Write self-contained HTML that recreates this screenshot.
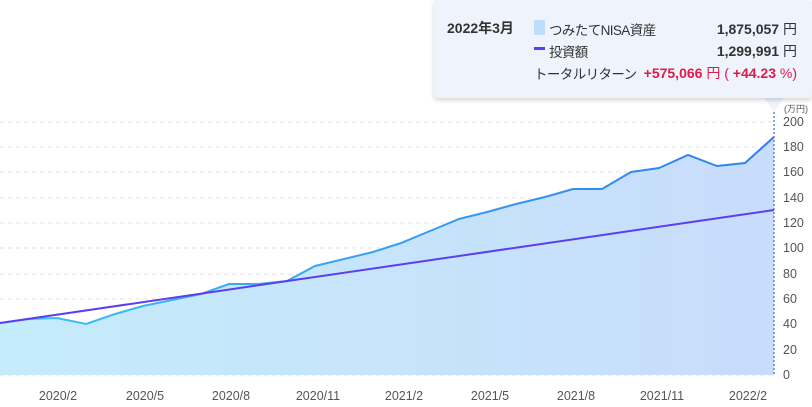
<!DOCTYPE html><html><head><meta charset="utf-8"><style>
body{margin:0;width:812px;height:407px;overflow:hidden;background:#fff;font-family:"Liberation Sans","Noto Sans CJK JP",sans-serif;}
.tt{position:absolute;left:434px;top:0;width:378px;height:98px;background:#eef3fc;box-shadow:0 2px 5px rgba(0,0,0,.18);border-radius:3px;font-size:14px;color:#333}
.tt div{position:absolute;white-space:nowrap}
.tt .lb{font-size:13.5px;letter-spacing:-0.6px}
</style></head><body>
<svg width="812" height="407" style="position:absolute;left:0;top:0">
<defs>
<linearGradient id="f" x1="0" x2="1" y1="0" y2="0"><stop offset="0" stop-color="#c4ecfb"/><stop offset="1" stop-color="#c8dcfb"/></linearGradient>
<linearGradient id="l" x1="0" x2="1" y1="0" y2="0"><stop offset="0" stop-color="#3fc0f5"/><stop offset="1" stop-color="#2f7ff0"/></linearGradient>
</defs>
<g stroke="#e3e3e3" stroke-dasharray="4,4">
<line x1="0" x2="774" y1="122" y2="122"/><line x1="0" x2="774" y1="147" y2="147"/><line x1="0" x2="774" y1="172" y2="172"/><line x1="0" x2="774" y1="198" y2="198"/><line x1="0" x2="774" y1="223" y2="223"/><line x1="0" x2="774" y1="248" y2="248"/><line x1="0" x2="774" y1="274" y2="274"/><line x1="0" x2="774" y1="299" y2="299"/><line x1="0" x2="774" y1="324" y2="324"/><line x1="0" x2="774" y1="350" y2="350"/><line x1="0" x2="774" y1="375" y2="375"/>
</g>
<polygon fill="url(#f)" points="0,375 0,323 29,319 57,318 86,324 115,314 143,306 172,300 201,294 229,284 258,284 287,281 315,266 344,259 373,252 401,243 430,231 459,219 487,212 516,204 545,197 573,189 602,189 631,172 659,168 688,155 717,166 745,163 774,137 774,375"/>
<polyline fill="none" stroke="url(#l)" stroke-width="2" points="0,323 29,319 57,318 86,324 115,314 143,306 172,300 201,294 229,284 258,284 287,281 315,266 344,259 373,252 401,243 430,231 459,219 487,212 516,204 545,197 573,189 602,189 631,172 659,168 688,155 717,166 745,163 774,137"/>
<line x1="0" y1="323" x2="774" y2="210" stroke="#5b3ef0" stroke-width="2"/>
<line x1="774" y1="112" x2="774" y2="375" stroke="#3a6fe8" stroke-width="1.2" stroke-dasharray="2,2"/>
<polygon points="764,98 784,98 774,112" fill="#eef3fc"/>
<g font-size="12.5" fill="#555">
<text x="784" y="112" font-size="9">(万円)</text>
<text x="783" y="126">200</text><text x="783" y="151">180</text><text x="783" y="176">160</text><text x="783" y="202">140</text><text x="783" y="227">120</text><text x="783" y="252">100</text><text x="783" y="278">80</text><text x="783" y="303">60</text><text x="783" y="328">40</text><text x="783" y="354">20</text><text x="783" y="379">0</text>
</g>
<g font-size="12.5" fill="#555" text-anchor="middle">
<text x="58" y="400">2020/2</text><text x="145" y="400">2020/5</text><text x="231" y="400">2020/8</text><text x="318" y="400">2020/11</text><text x="404" y="400">2021/2</text><text x="490" y="400">2021/5</text><text x="576" y="400">2021/8</text><text x="662" y="400">2021/11</text><text x="748" y="400">2022/2</text>
</g>
</svg>
<div class="tt">
<div style="left:13px;top:18px;font-weight:bold">2022年3月</div>
<div style="left:100px;top:20px;width:11px;height:15px;background:#bfdcfb"></div>
<div class="lb" style="left:115px;top:19px">つみたてNISA資産</div>
<div style="right:15px;top:19px"><b>1,875,057</b> 円</div>
<div style="left:100px;top:47px;width:11px;height:3px;background:#5b3ef0"></div>
<div class="lb" style="left:115px;top:41px">投資額</div>
<div style="right:15px;top:41px"><b>1,299,991</b> 円</div>
<div class="lb" style="left:100px;top:63px">トータルリターン</div>
<div style="right:15px;top:63px;color:#e0194a"><b>+575,066</b> 円 ( <b>+44.23</b> %)</div>
</div>
</body></html>
